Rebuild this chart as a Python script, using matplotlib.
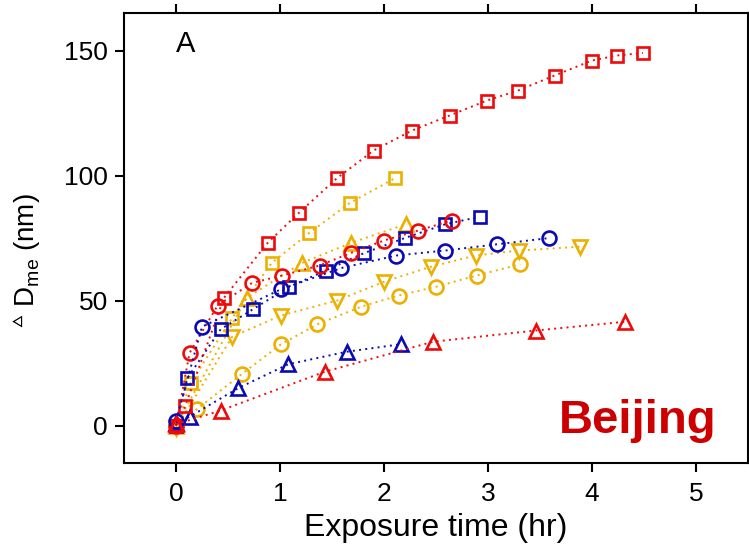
import matplotlib
matplotlib.use("Agg")
import matplotlib.pyplot as plt

plt.rcParams['font.family'] = ['Liberation Sans', 'DejaVu Sans']
plt.rcParams['mathtext.fontset'] = 'custom'
plt.rcParams['mathtext.rm'] = 'Liberation Sans'
plt.rcParams['mathtext.it'] = 'Liberation Sans'

RED = '#ee0a0a'
BLUE = '#0a0ab4'
YELLOW = '#ebb000'

# red squares
t_rs = [0, 0.09, 0.46, 0.88, 1.18, 1.55, 1.90, 2.27, 2.63, 2.99, 3.29, 3.64, 4.00, 4.24, 4.49]
d_rs = [0, 8, 51, 73, 85, 99, 110, 118, 124, 130, 134, 140, 146, 148, 149]
# yellow squares
t_ys = [0, 0.14, 0.54, 0.92, 1.28, 1.67, 2.11]
d_ys = [0, 17, 43, 65, 77, 89, 99]
# yellow up-triangles
t_yt = [0, 0.68, 1.21, 1.68, 2.21]
d_yt = [0, 51, 65, 73, 80.5]
# red circles
t_rc = [0, 0.13, 0.40, 0.73, 1.02, 1.38, 1.68, 2.00, 2.33, 2.65]
d_rc = [0, 29, 48, 57, 60, 64, 69, 74, 78, 82]
# blue squares
t_bs = [0, 0.11, 0.43, 0.74, 1.09, 1.44, 1.81, 2.20, 2.59, 2.92]
d_bs = [0, 19, 38.5, 46.5, 55.5, 62, 69, 75, 80.5, 83.5]
# blue circles
t_bc = [0, 0.25, 1.01, 1.59, 2.12, 2.59, 3.09, 3.59]
d_bc = [2, 39.5, 54.5, 63, 68, 70, 72.5, 75]
# yellow down-triangles
t_yd = [0, 0.54, 1.01, 1.55, 2.00, 2.45, 2.88, 3.30, 3.88]
d_yd = [-1, 35.5, 44, 50, 57.5, 63.5, 68, 70, 71.5]
# yellow circles
t_yc = [0, 0.20, 0.63, 1.01, 1.36, 1.78, 2.14, 2.50, 2.89, 3.31]
d_yc = [0, 6.5, 20.5, 32.5, 40.5, 47.5, 52, 55.5, 60, 64.5]
# blue triangles
t_bt = [0, 0.13, 0.60, 1.08, 1.64, 2.16]
d_bt = [1, 3.5, 15, 24.5, 29.5, 32.5]
# red triangles
t_rt = [0, 0.43, 1.43, 2.47, 3.46, 4.32]
d_rt = [0.5, 6, 21.5, 33.5, 38, 41.5]

series = [
    (t_yd, d_yd, YELLOW, 'v'),
    (t_yc, d_yc, YELLOW, 'o'),
    (t_ys, d_ys, YELLOW, 's'),
    (t_yt, d_yt, YELLOW, '^'),
    (t_bs, d_bs, BLUE, 's'),
    (t_bt, d_bt, BLUE, '^'),
    (t_rs, d_rs, RED, 's'),
    (t_rc, d_rc, RED, 'o'),
    (t_bc, d_bc, BLUE, 'o'),
    (t_rt, d_rt, RED, '^'),
]

fig = plt.figure(figsize=(7.49, 5.59), dpi=100)
ax = fig.add_axes([124 / 749, 1 - 463 / 559, 624 / 749, 450 / 559])

for t, d, c, m in series:
    ms = 10 if m in 'o^v' else 9
    ax.plot(t, d, color=c, linestyle=(0, (1, 2.2)), linewidth=1.4,
            marker=m, markersize=ms, markerfacecolor='none',
            markeredgecolor=c, markeredgewidth=1.9)

ax.set_xlim(-0.5, 5.5)
ax.set_ylim(-15, 165)
ax.set_xticks(range(0, 6))
ax.set_yticks([0, 50, 100, 150])

for s in ax.spines.values():
    s.set_linewidth(1.5)
ax.tick_params(direction='out', length=6.5, width=1.5, labelsize=19,
               top=True, right=False, pad=5)
ax.tick_params(axis='x', pad=7)

ax.set_xlabel('Exposure time (hr)', fontsize=23, labelpad=5)
ax.set_ylabel(r'$^{\vartriangle}$ D$_{\mathrm{me}}$ (nm)', fontsize=20)
ax.yaxis.set_label_coords(-0.13, 0.45)

ax.text(0.098, 0.93, 'A', transform=ax.transAxes, fontsize=21,
        ha='center', va='center')
ax.text(0.949, 0.067, 'Beijing', transform=ax.transAxes, fontsize=34,
        fontweight='bold', color='#cc0000', ha='right', va='baseline')

fig.savefig('out.png', dpi=100)
